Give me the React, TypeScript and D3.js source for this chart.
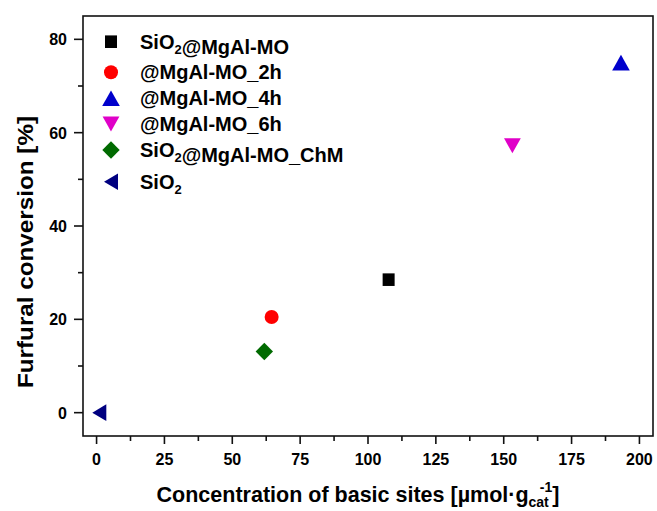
import React from 'react';
import { scaleLinear, range } from 'd3';

// data
const seriesNames = ['SiO2@MgAl-MO', '@MgAl-MO_2h', '@MgAl-MO_4h', '@MgAl-MO_6h', 'SiO2@MgAl-MO_ChM', 'SiO2'];
const basicSites = [107.6, 64.5, 193.2, 153.2, 61.8, 1.0];
const conversion = [28.5, 20.5, 75.0, 57.2, 13.1, 0.0];
const markerShapes = ['square', 'circle', 'up', 'down', 'diamond', 'left'];
const seriesColors = ['#000000', '#ff0000', '#0000cc', '#e000c8', '#006a00', '#000080'];

const xMajorTicks = range(0, 201, 25);
const xMinorTicks = range(12.5, 200, 25);
const yMajorTicks = [0, 20, 40, 60, 80];
const yMinorTicks = [10, 30, 50, 70];

const W = 657, H = 511;
const plot = { left: 83, right: 653, top: 16, bottom: 436 };
const FONT = '"Liberation Sans", Arial, sans-serif';

const x = scaleLinear().domain([-5, 205]).range([plot.left, plot.right]);
const y = scaleLinear().domain([-5, 85]).range([plot.bottom, plot.top]);

// marker path around its centre
function markerPath(shape: string) {
  switch (shape) {
    case 'square': return 'M-6,-6.3H6V6.3H-6Z';
    case 'circle': return 'M7,0A7,7 0 1,1 -7,0A7,7 0 1,1 7,0Z';
    case 'up': return 'M0,-7.8L8.8,7.8H-8.8Z';
    case 'down': return 'M-8.4,-7.5H8.4L0,7.5Z';
    case 'diamond': return 'M0,-8.7L8.7,0L0,8.7L-8.7,0Z';
    case 'left': return 'M-7,0L7,-8.3V8.3Z';
    default: return '';
  }
}

// name with "2" after SiO as a subscript
function Label({ name, lx, ly }: { name: string; lx: number; ly: number }) {
  const parts = name.split('SiO2');
  return (
    <text x={lx} y={ly} fontFamily={FONT} fontWeight="bold" fontSize={20} fill="#000">
      {parts.map((p, i) => (
        <React.Fragment key={i}>
          {i > 0 && (
            <>
              <tspan>SiO</tspan>
              <tspan fontSize={13} dy={5}>2</tspan>
              <tspan dy={-5}>{''}</tspan>
            </>
          )}
          <tspan>{p}</tspan>
        </React.Fragment>
      ))}
    </text>
  );
}

const legendRows = [41.7, 72.3, 98.3, 124, 150, 181.7];

export default function App() {
  return (
    <svg width={W} height={H} style={{ position: 'absolute', left: 0, top: 0, background: '#fff' }}>
      <rect x={0} y={0} width={W} height={H} fill="#fff" />

      {/* frame */}
      <rect x={plot.left} y={plot.top} width={plot.right - plot.left} height={plot.bottom - plot.top}
        fill="none" stroke="#111" strokeWidth={1.6} />

      {/* x ticks */}
      {xMajorTicks.map(t => (
        <g key={'xm' + t}>
          <line x1={x(t)} x2={x(t)} y1={plot.bottom} y2={plot.bottom + 8} stroke="#111" strokeWidth={1.6} />
          <text x={x(t)} y={465} textAnchor="middle" fontFamily={FONT} fontWeight="bold" fontSize={16}>{t}</text>
        </g>
      ))}
      {xMinorTicks.map(t => (
        <line key={'xn' + t} x1={x(t)} x2={x(t)} y1={plot.bottom} y2={plot.bottom + 5} stroke="#111" strokeWidth={1.6} />
      ))}

      {/* y ticks */}
      {yMajorTicks.map(t => (
        <g key={'ym' + t}>
          <line x1={plot.left - 9} x2={plot.left} y1={y(t)} y2={y(t)} stroke="#111" strokeWidth={1.6} />
          <text x={67} y={y(t) + 6} textAnchor="end" fontFamily={FONT} fontWeight="bold" fontSize={16}>{t}</text>
        </g>
      ))}
      {yMinorTicks.map(t => (
        <line key={'yn' + t} x1={plot.left - 5} x2={plot.left} y1={y(t)} y2={y(t)} stroke="#111" strokeWidth={1.6} />
      ))}

      {/* axis titles */}
      <text x={358} y={502} textAnchor="middle" fontFamily={FONT} fontWeight="bold" fontSize={21.5}>
        Concentration of basic sites [µmol·g
        <tspan fontSize={14} dy={5}>cat</tspan>
        <tspan fontSize={14} dx={-9} dy={-15}>-1</tspan>
        <tspan dy={10}>]</tspan>
      </text>
      <text transform="translate(33,252) rotate(-90)" textAnchor="middle"
        fontFamily={FONT} fontWeight="bold" fontSize={22} textLength={272} lengthAdjust="spacingAndGlyphs">
        Furfural conversion [%]
      </text>

      {/* points */}
      {seriesNames.map((n, i) => (
        <path key={'p' + n} d={markerPath(markerShapes[i])}
          transform={`translate(${x(basicSites[i])},${y(conversion[i])})`} fill={seriesColors[i]} />
      ))}

      {/* legend */}
      {seriesNames.map((n, i) => (
        <g key={'l' + n}>
          <path d={markerPath(markerShapes[i])} transform={`translate(111,${legendRows[i]})`} fill={seriesColors[i]} />
          <Label name={n} lx={140} ly={legendRows[i] + 7} />
        </g>
      ))}
    </svg>
  );
}
